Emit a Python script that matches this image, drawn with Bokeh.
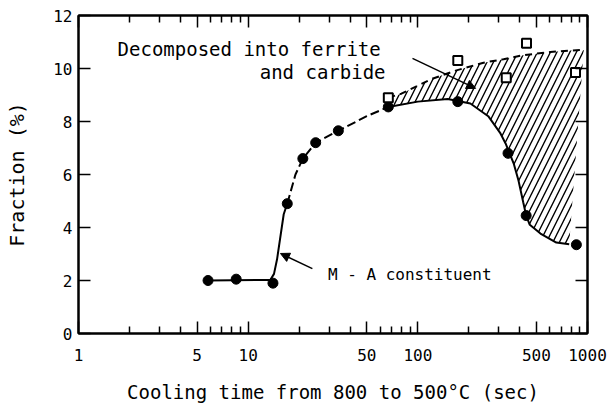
from bokeh.plotting import figure
from bokeh.models import (LogAxis, LinearAxis, FixedTicker, Range1d, Arrow,
                          NormalHead, Label, CustomLabelingPolicy)
from bokeh.embed import file_html
from bokeh.resources import INLINE

# ---- data ----
ma_time = [5.8, 8.5, 14, 17, 21, 25, 34, 67, 172, 340, 435, 860]
ma_frac = [2.0, 2.05, 1.9, 4.9, 6.6, 7.2, 7.65, 8.55, 8.75, 6.8, 4.45, 3.35]

sq_time = [67, 172, 332, 437, 850]
sq_frac = [8.9, 10.3, 9.65, 10.95, 9.85]

# fitted curve: plateau + steep rise (solid)
rise_time = [5.8, 13.5, 14.2, 14.8, 16.2, 17]
rise_frac = [2.0, 2.02, 2.25, 2.8, 4.5, 4.9]
# rising part (dashed)
grow_time = [17, 19, 21, 25, 34, 50, 67]
grow_frac = [4.9, 6.0, 6.6, 7.2, 7.65, 8.2, 8.55]
# lower boundary (solid)
lower_time = [67, 100, 150, 204, 260, 307, 329, 368, 392, 418, 435, 457, 528, 655, 780]
lower_frac = [8.55, 8.75, 8.85, 8.68, 8.2, 7.55, 7.17, 6.4, 5.77, 4.95, 4.45, 4.1, 3.77, 3.43, 3.37]
# upper boundary (dashed)
upper_time = [67, 80, 120, 167, 244, 320, 417, 603, 793, 950]
upper_frac = [8.9, 9.05, 9.6, 9.92, 10.22, 10.35, 10.5, 10.62, 10.68, 10.7]

x_ticks = [1, 5, 10, 50, 100, 500, 1000]
x_tick_labels = ["1", "5", "10", "50", "100", "500", "1000"]
x_minor = [2, 3, 4, 6, 7, 8, 9, 20, 30, 40, 60, 70, 80, 90, 200, 300, 400, 600, 700, 800, 900]
y_ticks = [0, 2, 4, 6, 8, 10, 12]

FONT = "DejaVu Sans Mono"

p = figure(frame_width=509, frame_height=318, x_axis_type="log",
           x_range=Range1d(1, 1000), y_range=Range1d(0, 12),
           output_backend="svg", toolbar_location=None,
           min_border_left=78, min_border_right=28, min_border_top=15,
           min_border_bottom=72)

p.xgrid.visible = False
p.ygrid.visible = False
p.outline_line_color = "black"
p.outline_line_width = 2
p.background_fill_color = "white"
p.border_fill_color = "white"

xt = FixedTicker(ticks=x_ticks, minor_ticks=x_minor)
yt = FixedTicker(ticks=y_ticks)

xa = p.xaxis[0]
xa.ticker = xt
xa.major_label_overrides = dict(zip(x_ticks, x_tick_labels))
xa.axis_label = "Cooling time from 800 to 500°C (sec)"
ya = p.yaxis[0]
ya.ticker = yt
ya.axis_label = "Fraction (%)"

for ax in (xa, ya):
    ax.axis_line_width = 2
    ax.axis_line_color = "black"
    ax.major_tick_in = 12
    ax.major_tick_out = 0
    ax.minor_tick_in = 7
    ax.minor_tick_out = 0
    ax.major_tick_line_width = 1.5
    ax.minor_tick_line_width = 1.5
    ax.major_label_text_font = FONT
    ax.major_label_text_font_size = "16px"
    ax.major_label_text_color = "black"
    ax.axis_label_text_font = FONT
    ax.axis_label_text_font_size = "19px"
    ax.axis_label_text_font_style = "normal"
    ax.axis_label_text_color = "black"

ya.minor_tick_line_color = None
ya.axis_label_text_font_size = "20px"
xa.major_label_standoff = 15
xa.axis_label_standoff = 17
ya.major_label_standoff = 6
ya.axis_label_standoff = 21

hide_code = "for (const i of Array.from(indices)) { indices.unset(i) }\nreturn indices"
top = LogAxis(ticker=FixedTicker(ticks=x_ticks, minor_ticks=x_minor),
              major_tick_in=12, major_tick_out=0, minor_tick_in=7, minor_tick_out=0,
              major_tick_line_width=1.5, minor_tick_line_width=1.5,
              axis_line_width=2, major_label_text_font_size="8px",
              major_label_standoff=0,
              major_label_policy=CustomLabelingPolicy(code=hide_code))
p.add_layout(top, "above")
right = LinearAxis(ticker=FixedTicker(ticks=y_ticks),
                   major_tick_in=12, major_tick_out=0, minor_tick_line_color=None,
                   major_tick_line_width=1.5, axis_line_width=2,
                   major_label_text_font_size="8px", major_label_standoff=0,
                   major_label_policy=CustomLabelingPolicy(code=hide_code))
p.add_layout(right, "right")

# hatched region between upper and lower curves
p.patch(x=upper_time + lower_time[::-1], y=upper_frac + lower_frac[::-1],
        fill_color=None, line_color=None, hatch_pattern="/",
        hatch_scale=13, hatch_weight=1.4, hatch_color="black")

p.line(rise_time, rise_frac, line_color="black", line_width=2)
p.line(grow_time, grow_frac, line_color="black", line_width=2, line_dash="9 4")
p.line(lower_time, lower_frac, line_color="black", line_width=2)
p.line(upper_time, upper_frac, line_color="black", line_width=2, line_dash="7 5")

p.scatter(ma_time, ma_frac, marker="circle", size=10, fill_color="black",
          line_color="black")
p.scatter(sq_time, sq_frac, marker="square", size=9, fill_color="white",
          line_color="black", line_width=2)

# annotations
dec_x, dec_y = 1.7, 10.75
carb_x, carb_y = 64.5, 9.85
ma_x, ma_y = 29.5, 2.23
arr1 = dict(x_start=93, y_start=10.38, x_end=219, y_end=9.25)
arr2 = dict(x_start=23.9, y_start=2.45, x_end=15.5, y_end=3.02)

p.add_layout(Label(x=dec_x, y=dec_y, text="Decomposed into ferrite",
                   text_baseline="middle", text_font=FONT, text_font_size="19px",
                   text_color="black"))
p.add_layout(Label(x=carb_x, y=carb_y, text="and carbide", text_align="right",
                   text_baseline="middle", text_font=FONT, text_font_size="19px",
                   text_color="black"))
p.add_layout(Label(x=ma_x, y=ma_y, text="M - A constituent",
                   text_baseline="middle", text_font=FONT, text_font_size="16px",
                   text_color="black"))
p.add_layout(Arrow(end=NormalHead(size=9, fill_color="black", line_color="black"),
                   line_width=1.5, **arr1))
p.add_layout(Arrow(end=NormalHead(size=9, fill_color="black", line_color="black"),
                   line_width=1.5, **arr2))

open("out.html", "w").write(file_html(p, INLINE))
